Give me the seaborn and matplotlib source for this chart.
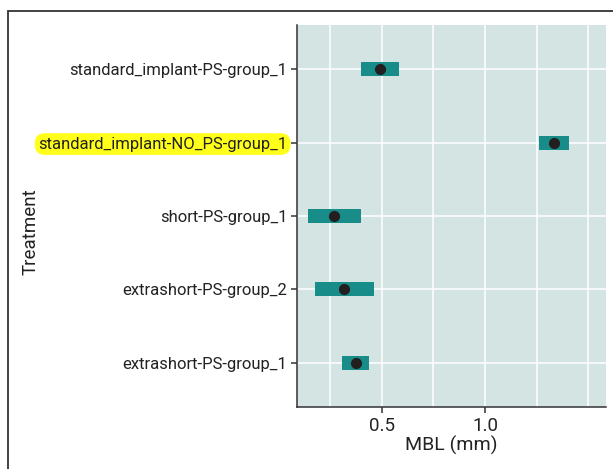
import numpy as np
import pandas as pd
import matplotlib
matplotlib.use("Agg")
import matplotlib.pyplot as plt
from matplotlib.patches import Rectangle
from matplotlib.ticker import MultipleLocator
import seaborn as sns

treatments = [
    "standard_implant-PS-group_1",
    "standard_implant-NO_PS-group_1",
    "short-PS-group_1",
    "extrashort-PS-group_2",
    "extrashort-PS-group_1",
]
mbl_mean = [0.492, 1.334, 0.271, 0.319, 0.376]
mbl_low = [0.400, 1.261, 0.144, 0.178, 0.308]
mbl_high = [0.584, 1.406, 0.400, 0.463, 0.439]

df = pd.DataFrame({"Treatment": treatments, "MBL": mbl_mean,
                   "low": mbl_low, "high": mbl_high})

sns.set_style("white")
plt.rcParams["font.family"] = ["Roboto", "DejaVu Sans"]

fig = plt.figure(figsize=(6.13, 4.69), dpi=100)
ax = fig.add_axes([0.4845, 0.1322, 0.5041, 0.8145])
ax.set_facecolor("#d3e4e3")

# intervalos
pos = np.arange(len(df))
ax.barh(pos, df["high"] - df["low"], left=df["low"], height=0.19,
        color="#178c88", edgecolor="none", linewidth=0, zorder=2)

sns.pointplot(data=df, x="MBL", y="Treatment", order=treatments,
              linestyle="none", markers="o", color="#231f20",
              markersize=6, errorbar=None, ax=ax, zorder=3)

ax.set_xlim(0.09, 1.585)
ax.set_ylim(4.6, -0.6)
ax.xaxis.set_major_locator(MultipleLocator(0.5))
ax.xaxis.set_minor_locator(MultipleLocator(0.25))
ax.set_xticks([0.5, 1.0])
ax.grid(True, which="both", axis="x", color="white", linewidth=1.1, zorder=1)
ax.grid(True, which="major", axis="y", color="white", linewidth=1.1, zorder=1)
ax.set_axisbelow(True)

for s in ["top", "right"]:
    ax.spines[s].set_visible(False)
for s in ["left", "bottom"]:
    ax.spines[s].set_color("#333333")
    ax.spines[s].set_linewidth(1.1)

ax.tick_params(axis="y", which="major", labelsize=12)
ax.tick_params(axis="x", which="major", labelsize=13.5)
ax.tick_params(axis="both", which="major", length=4, width=1.1, color="#333333",
               labelcolor="#222222", pad=3, left=True, bottom=True)
ax.tick_params(axis="x", which="minor", length=0)

ax.set_xlabel("MBL (mm)", fontsize=14, color="#222222", labelpad=1)
ax.set_ylabel("Treatment", fontsize=13.5, color="#222222")
ax.yaxis.set_label_coords(-0.833, 0.46)

for lbl in ax.get_yticklabels():
    if lbl.get_text() == "standard_implant-NO_PS-group_1":
        lbl.set_bbox(dict(boxstyle="round,pad=0.2,rounding_size=0.6",
                          facecolor="#ffff1a", edgecolor="none"))

# marco exterior
fig.patches.append(Rectangle((8 / 613, -0.2), 1.2, 1.2 - 11 / 469,
                             transform=fig.transFigure, fill=False,
                             edgecolor="#333333", linewidth=1.3))

fig.savefig("out.png", dpi=100)
